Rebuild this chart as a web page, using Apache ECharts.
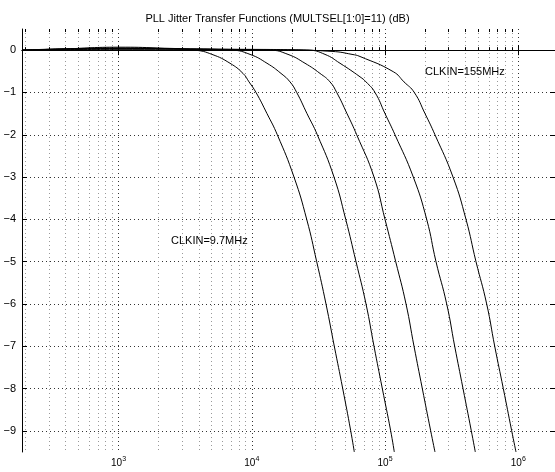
<!DOCTYPE html>
<html>
<head>
<meta charset="utf-8">
<script src="https://cdn.jsdelivr.net/npm/echarts@6/dist/echarts.min.js"></script>
<style>
  html, body { margin: 0; padding: 0; background: #fff; }
  #chart { width: 555px; height: 472px; }
</style>
</head>
<body>
<div id="chart"></div>
<script>
// axis range (rad/s on a log scale, dB on the y axis)
const xRange = [188.5, 1885000];
const yRange = [-9.5, 0.5];
const xMajor = [1e3, 1e4, 1e5, 1e6];
const xMinor = [200, 300, 400, 500, 600, 700, 800, 900,
  2e3, 3e3, 4e3, 5e3, 6e3, 7e3, 8e3, 9e3,
  2e4, 3e4, 4e4, 5e4, 6e4, 7e4, 8e4, 9e4,
  2e5, 3e5, 4e5, 5e5, 6e5, 7e5, 8e5, 9e5, 2e6];
const yTicks = [-9, -8, -7, -6, -5, -4, -3, -2, -1, 0];

// curves: [frequency, dB]
const clk97 = [[188.5, 0], [400, 0.03], [1000, 0.07], [2000, 0.05], [3746, 0], [5025, -0.1], [6860, -0.31],
  [8585, -0.55], [9526, -0.75], [10750, -1], [13000, -1.5], [15535, -2], [20730, -3], [25820, -4],
  [30680, -5], [36030, -6], [41590, -7], [48100, -8], [55240, -9], [58770, -9.5]];
const clk194 = [[188.5, 0], [1000, 0.05], [3000, 0.03], [7100, 0], [9692, -0.1], [13000, -0.31],
  [16560, -0.55], [19350, -0.75], [21720, -1], [25950, -1.5], [31000, -2], [41380, -3], [50660, -4],
  [60520, -5], [71940, -6], [82600, -7], [95340, -8], [110200, -9], [117300, -9.5]];
const clk388 = [[188.5, 0], [1000, 0.04], [5000, 0.02], [13690, 0], [18690, -0.1], [25070, -0.31],
  [32490, -0.55], [38610, -0.75], [43350, -1], [51800, -1.5], [61250, -2], [82600, -3], [99890, -4],
  [120200, -5], [143600, -6], [164900, -7], [190300, -8], [220000, -9], [236900, -9.5]];
const clk776 = [[188.5, 0], [1000, 0.03], [8000, 0.02], [26410, 0], [35410, -0.1], [45900, -0.31],
  [64850, -0.63], [71940, -0.75], [84030, -1], [99890, -1.5], [118700, -2], [162900, -3], [205300, -4],
  [241100, -5], [290100, -6], [333100, -7], [384600, -8], [443900, -9], [475600, -9.5]];
const clk155 = [[188.5, 0], [1000, 0.02], [15000, 0.01], [40000, -0.03], [56480, -0.1], [64850, -0.15],
  [115300, -0.51], [138700, -0.75], [165700, -1], [199400, -1.5], [236900, -2], [323500, -3],
  [404900, -4], [481300, -5], [578900, -6], [665000, -7], [771500, -8], [892000, -9], [960700, -9.5]];

const curves = [clk97, clk194, clk388, clk776, clk155];

const fontFam = '"Liberation Sans", Arial, Helvetica, sans-serif';
const gridBox = { left: 22, right: 0, top: 29, bottom: 20, containLabel: false };

function logAxis(grid, pos, ticks, len, opts) {
  return Object.assign({
    type: 'log',
    gridIndex: grid,
    position: pos,
    min: xRange[0],
    max: xRange[1],
    axisLine: { show: false },
    axisTick: { show: true, inside: true, length: len, customValues: ticks, lineStyle: { color: '#000' } },
    axisLabel: { show: false },
    splitLine: { show: false }
  }, opts || {});
}

const chart = echarts.init(document.getElementById('chart'), null, { renderer: 'canvas' });

chart.setOption({
  animation: false,
  backgroundColor: '#fff',
  title: {
    text: 'PLL Jitter Transfer Functions (MULTSEL[1:0]=11) (dB)',
    left: 'center',
    top: 8,
    textStyle: { fontFamily: fontFam, fontSize: 11, fontWeight: 'normal', color: '#000' }
  },
  grid: [gridBox, gridBox],
  xAxis: [
    logAxis(0, 'bottom', xMajor, 5, {
      axisLine: { show: true, lineStyle: { color: '#000', width: 1 } },
      axisLabel: {
        show: true,
        customValues: xMajor,
        margin: 4,
        fontFamily: fontFam,
        fontSize: 10,
        color: '#000',
        formatter: v => '10{s|' + Math.round(Math.log10(v)) + '}',
        rich: { s: { fontSize: 7, verticalAlign: 'top', padding: [0, 0, 8, 0], fontFamily: fontFam, color: '#000' } }
      },
      splitLine: { show: true, lineStyle: { color: '#333', width: 1, type: [1, 3] } }
    }),
    logAxis(0, 'top', xMajor, 5, {
      axisLine: { show: true, lineStyle: { color: '#000', width: 1 } }
    }),
    logAxis(1, 'bottom', xMinor, 3, {
      splitLine: { show: true, lineStyle: { color: '#999', width: 1, type: [1, 3] } }
    }),
    logAxis(1, 'top', xMinor, 3)
  ],
  yAxis: [
    {
      type: 'value', gridIndex: 0, position: 'left',
      min: yRange[0], max: yRange[1],
      axisLine: { show: true, lineStyle: { color: '#000', width: 1 } },
      axisTick: { show: true, inside: true, length: 5, customValues: yTicks, lineStyle: { color: '#000' } },
      axisLabel: {
        show: true, customValues: yTicks, margin: 6,
        fontFamily: fontFam, fontSize: 11, color: '#000',
        formatter: v => String(v).replace('-', '\u2212')
      },
      splitLine: { show: true, lineStyle: { color: '#333', width: 1, type: [1, 3] } }
    },
    {
      type: 'value', gridIndex: 0, position: 'right',
      min: yRange[0], max: yRange[1],
      axisLine: { show: true, lineStyle: { color: '#000', width: 1 } },
      axisTick: { show: true, inside: true, length: 5, customValues: yTicks, lineStyle: { color: '#000' } },
      axisLabel: { show: false },
      splitLine: { show: false }
    },
    { type: 'value', gridIndex: 1, min: yRange[0], max: yRange[1], show: false }
  ],
  graphic: [
    { type: 'text', left: 425, top: 66, style: { text: 'CLKIN=155MHz', font: '11px ' + fontFam, fill: '#000' } },
    { type: 'text', left: 171, top: 235, style: { text: 'CLKIN=9.7MHz', font: '11px ' + fontFam, fill: '#000' } }
  ],
  series: curves.map(c => ({
    type: 'line',
    xAxisIndex: 0,
    yAxisIndex: 0,
    data: c,
    smooth: 0.5,
    showSymbol: false,
    clip: true,
    lineStyle: { color: '#000', width: 1 }
  }))
});
</script>
</body>
</html>
